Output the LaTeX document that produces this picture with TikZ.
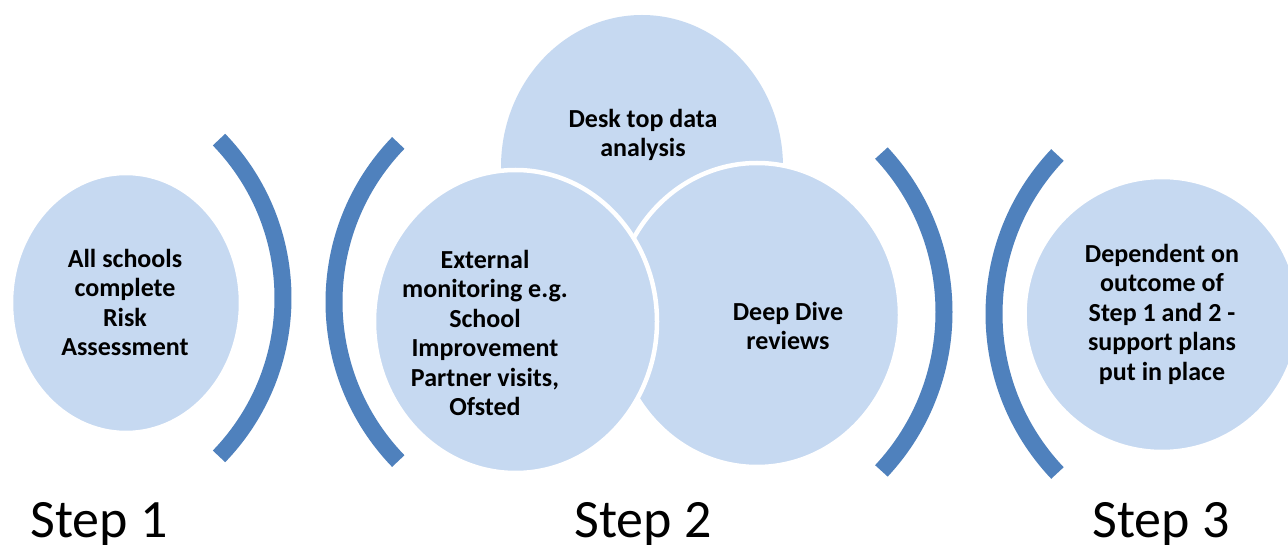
\documentclass[tikz,border=0pt]{standalone}
\usepackage{fontspec}
\setmainfont{Carlito}
\usetikzlibrary{shapes.geometric}
\definecolor{arcblue}{HTML}{4F81BD}
\definecolor{bubble}{HTML}{C6D9F1}
\tikzset{
  bub/.style={ellipse, fill=bubble, draw=white, line width=4.5pt, inner sep=0pt, outer sep=0pt},
  paren/.style={draw=arcblue, line width=17pt, line cap=butt},
  btext/.style={font=\fontsize{26}{29.5}\selectfont\bfseries, align=center, inner sep=0pt, text=black},
  steplabel/.style={font=\fontsize{54}{60}\selectfont, anchor=base, inner sep=0pt, text=black}
}
\begin{document}
\begin{tikzpicture}[x=1pt,y=1pt]
\clip (0,0) rectangle (1288,544);
\fill[white] (0,0) rectangle (1288,544);
% Step 1
\node[bub, minimum width=230pt, minimum height=260pt] (c1) at (126,241) {};
\node[btext] (t1) at (125,241.5) {All schools\\complete\\Risk\\Assessment};
\draw[paren] (55,246) ++(-44:228) arc[start angle=-44, end angle=44, radius=228];
% Step 2
\draw[paren] (563,242) ++(136:229) arc[start angle=136, end angle=224, radius=229];
\node[bub, draw=none, minimum width=282pt, minimum height=304pt] (ctop) at (642,377) {};
\node[bub, minimum width=286pt, minimum height=304pt] (cright) at (757,229) {};
\node[bub, minimum width=283pt, minimum height=303pt] (cleft) at (515.5,222.5) {};
\node[btext] (ttop) at (643,409) {Desk top data\\analysis};
\node[btext] (tleft) at (485,211) {External\\monitoring e.g.\\School\\Improvement\\Partner visits,\\Ofsted};
\node[btext] (tright) at (788,218) {Deep Dive\\reviews};
\draw[paren] (711,232) ++(-43:233) arc[start angle=-43, end angle=43, radius=233];
% Step 3
\draw[paren] (1225,230) ++(136.5:231) arc[start angle=136.5, end angle=223.5, radius=231];
\node[bub, minimum width=275pt, minimum height=275pt] (c3) at (1162,229.5) {};
\node[btext] (t3) at (1162,230) {Dependent on\\outcome of\\Step 1 and 2 -\\support plans\\put in place};
% Labels
\node[steplabel] (s1) at (99,7) {Step 1};
\node[steplabel] (s2) at (643,7) {Step 2};
\node[steplabel] (s3) at (1161,7) {Step 3};
\end{tikzpicture}
\end{document}
